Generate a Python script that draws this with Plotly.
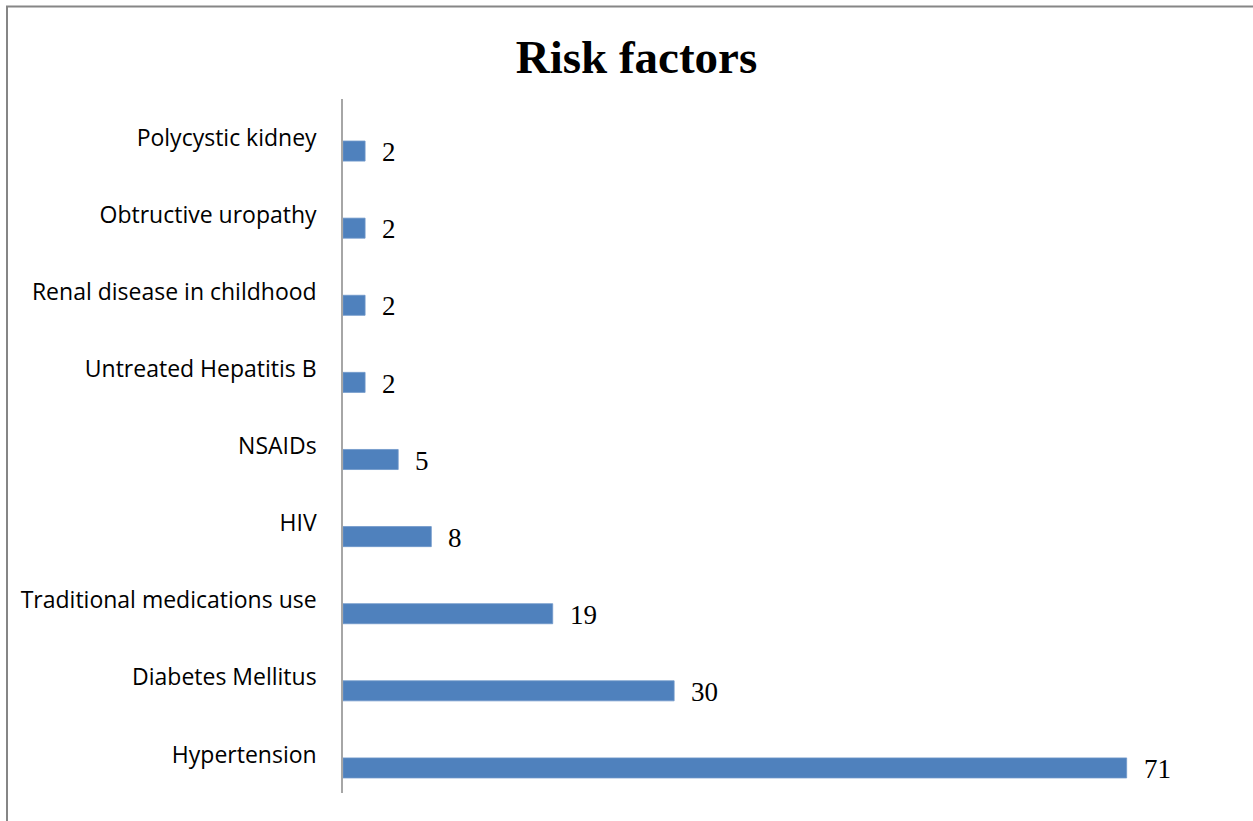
import plotly.graph_objects as go

# Risk factor counts, listed bottom to top as drawn
categories = [
    "Hypertension",
    "Diabetes Mellitus",
    "Traditional medications use",
    "HIV",
    "NSAIDs",
    "Untreated Hepatitis B",
    "Renal disease in childhood",
    "Obtructive uropathy",
    "Polycystic kidney",
]
counts = [71, 30, 19, 8, 5, 2, 2, 2, 2]

W, H = 1253, 821
L, R, T, B = 343, 27, 99, 28
BAR_COLOR = "#4f81bd"

fig = go.Figure()
fig.add_trace(go.Bar(
    x=counts,
    y=categories,
    orientation="h",
    marker=dict(color=BAR_COLOR, line=dict(color="#6f97c9", width=0.8)),
    width=0.26,
    offset=-0.305,
    hoverinfo="x+y",
))

# value labels to the right of each bar
slot_px = (H - T - B) / len(categories)
for c, v in zip(categories, counts):
    fig.add_annotation(
        x=v, y=c, xref="x", yref="y",
        text=str(v), showarrow=False,
        xanchor="left", yanchor="middle",
        xshift=15, yshift=-0.19 * slot_px,
        font=dict(family="Liberation Serif, Times New Roman, serif", size=27, color="#000"),
    )

# outer chart border (left and top edges visible)
pw, ph = W - L - R, H - T - B
fig.add_shape(
    type="rect", xref="paper", yref="paper",
    x0=(7 - L) / pw, x1=(W + 10 - L) / pw,
    y0=-(B + 10) / ph, y1=1 + (T - 6.5) / ph,
    line=dict(color="#868686", width=2), fillcolor="rgba(0,0,0,0)",
    layer="below",
)

fig.update_layout(
    width=W, height=H,
    margin=dict(l=L, r=R, t=T, b=B),
    paper_bgcolor="white", plot_bgcolor="white",
    showlegend=False,
    title=dict(
        text="<b>Risk factors</b>",
        x=(636.5) / W, xanchor="center",
        y=1 - 57 / H, yanchor="middle",
        font=dict(family="Liberation Serif, Times New Roman, serif", size=47, color="#000"),
    ),
    xaxis=dict(
        range=[0, 80], showgrid=False, zeroline=False, showline=False,
        showticklabels=False, ticks="",
    ),
    yaxis=dict(
        type="category", categoryorder="array", categoryarray=categories,
        showgrid=False, zeroline=False,
        showline=True, linecolor="#a6a6a6", linewidth=1.5,
        ticks="", ticklabelstandoff=20,
        tickfont=dict(family="Open Sans, sans-serif", size=23, color="#000"),
    ),
)

fig.write_html("out.html")
